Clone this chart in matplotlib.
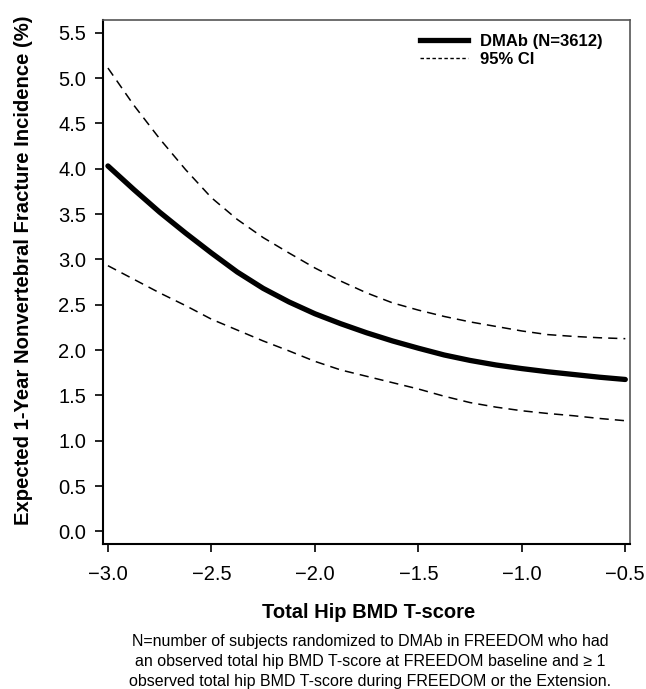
import matplotlib

matplotlib.use("Agg")
import matplotlib.pyplot as plt
from matplotlib.lines import Line2D

plt.rcParams["font.family"] = ["Liberation Sans", "DejaVu Sans"]

# values
tscore = [-3.0, -2.875, -2.75, -2.625, -2.5, -2.375, -2.25, -2.125, -2.0, -1.875, -1.75,
          -1.625, -1.5, -1.375, -1.25, -1.125, -1.0, -0.875, -0.75, -0.625, -0.5]
dmab = [4.03, 3.77, 3.52, 3.29, 3.07, 2.86, 2.68, 2.53, 2.40, 2.29, 2.19,
        2.10, 2.02, 1.945, 1.885, 1.835, 1.795, 1.76, 1.73, 1.70, 1.675]
ci_upper = [5.11, 4.70, 4.33, 3.99, 3.68, 3.44, 3.24, 3.07, 2.905, 2.76, 2.63,
            2.52, 2.44, 2.37, 2.31, 2.26, 2.21, 2.17, 2.15, 2.135, 2.125]
ci_lower = [2.93, 2.78, 2.63, 2.49, 2.34, 2.22, 2.10, 1.99, 1.875, 1.78, 1.71,
            1.64, 1.57, 1.49, 1.42, 1.37, 1.33, 1.30, 1.275, 1.245, 1.22]

xticks = [-3.0, -2.5, -2.0, -1.5, -1.0, -0.5]
yticks = [0.0, 0.5, 1.0, 1.5, 2.0, 2.5, 3.0, 3.5, 4.0, 4.5, 5.0, 5.5]

fig = plt.figure(figsize=(6.46, 6.89), dpi=100)
ax = fig.add_axes([0.1594, 0.2104, 0.8156, 0.7606])

ax.plot(tscore, dmab, color="black", lw=3.8, solid_capstyle="round", solid_joinstyle="round")
ax.plot(tscore, ci_upper, color="black", lw=1.1, ls=(0, (6, 4)))
ax.plot(tscore, ci_lower, color="black", lw=1.1, ls=(0, (6, 4)))

ax.set_xlim(-3.024, -0.478)
ax.set_ylim(-0.14, 5.64)
ax.set_xticks(xticks)
ax.set_xticklabels(["\u2212%.1f" % abs(v) for v in xticks])
ax.set_yticks(yticks)
ax.set_yticklabels(["%.1f" % v for v in yticks])
ax.tick_params(direction="out", length=6, width=1.2, labelsize=14.5, color="black")
ax.tick_params(axis="x", pad=9)
ax.tick_params(axis="y", pad=6)

for s in ("left", "bottom"):
    ax.spines[s].set_linewidth(1.5)
    ax.spines[s].set_color("black")
for s in ("top", "right"):
    ax.spines[s].set_linewidth(1.2)
    ax.spines[s].set_color("#555555")

ax.set_xlabel("Total Hip BMD T-score", fontsize=14.5, fontweight="bold")
ax.xaxis.set_label_coords(0.504, -0.113)
ax.set_ylabel("Expected 1-Year Nonvertebral Fracture Incidence (%)", fontsize=14.6,
              fontweight="bold")
ax.yaxis.set_label_coords(-0.133, 0.523)

handles = [Line2D([], [], color="black", lw=3.8),
           Line2D([], [], color="black", lw=1.0, ls=(0, (2.5, 1.8)))]
fig.legend(handles, ["DMAb (N=3612)", "95% CI"], loc="upper left",
           bbox_to_anchor=(0.650, 0.951), frameon=False, borderpad=0, borderaxespad=0,
           prop={"weight": "bold", "size": 12}, handlelength=2.9,
           handletextpad=0.7, labelspacing=0.17)

fig.text(0.573, 0.040,
         "N=number of subjects randomized to DMAb in FREEDOM who had\n"
         "an observed total hip BMD T-score at FREEDOM baseline and \u2265 1\n"
         "observed total hip BMD T-score during FREEDOM or the Extension.",
         ha="center", va="center", fontsize=11.5, linespacing=1.4)

fig.savefig("out.png", dpi=100)
